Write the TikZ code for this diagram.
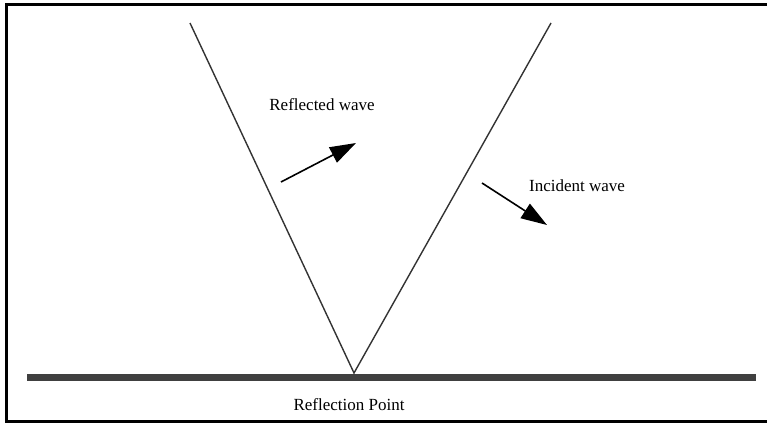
\documentclass[tikz,border=0pt]{standalone}
\usepackage{fontspec}
\setmainfont{Liberation Serif}
\usetikzlibrary{arrows.meta}
\begin{document}
\begin{tikzpicture}[x=1pt,y=-1pt,
  frame/.style={line width=3pt,black},
  ray/.style={line width=1.4pt,draw=black!80},
  ground/.style={line width=7pt,draw=black!75},
  dirarrow/.style={line width=1.6pt,-{Triangle[length=26pt,width=17pt]}},
  lbl/.style={font=\fontsize{17}{19}\selectfont,inner sep=0pt}]
\useasboundingbox (0,0) rectangle (767,423);
\fill[white] (0,0) rectangle (767,423);
\draw[frame] (780,4) -- (6.5,4) -- (6.5,421.5) -- (780,421.5);
% ground
\coordinate (gL) at (27,377);
\coordinate (gR) at (756,377);
\draw[ground] (gL) -- (gR);
% vee
\coordinate (P) at (354,373);
\coordinate (A) at (190,23);
\coordinate (B) at (551,23);
\draw[ray] (A) -- (P) -- (B);
% arrows
\coordinate (r1) at (281,182);
\coordinate (r2) at (356,143);
\draw[dirarrow] (r1) -- (r2);
\coordinate (i1) at (482,183);
\coordinate (i2) at (547,225);
\draw[dirarrow] (i1) -- (i2);
% labels
\node[lbl] (rw) at (322,105) {Reflected wave};
\node[lbl] (iw) at (577,186) {Incident wave};
\node[lbl] (rp) at (349,405) {Reflection Point};
\end{tikzpicture}
\end{document}
